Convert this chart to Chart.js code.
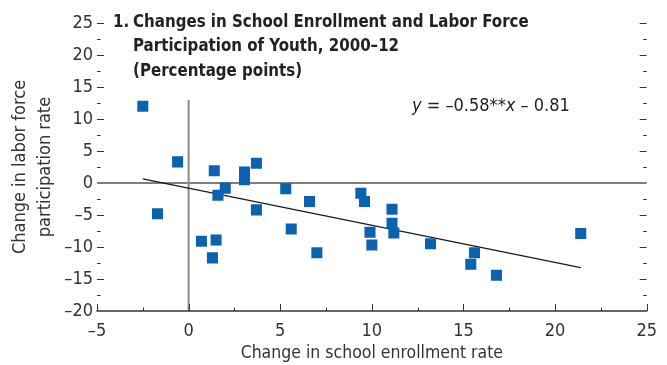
<!DOCTYPE html>
<html>
<head>
<meta charset="utf-8">
<script src="https://cdn.jsdelivr.net/npm/chart.js@4.4.0/dist/chart.umd.min.js"></script>
<style>
    html, body { margin: 0; padding: 0; background: #fff; }
    #wrap { width: 667px; height: 365px; }
</style>
</head>
<body>
<div id="wrap"><canvas id="scatter_canvas" width="667" height="365"></canvas></div>
<script>
// change in school enrollment rate (x) vs change in labor force participation rate (y)
const enrollment_change = [
    -2.5, -0.6, 1.4, 3.05, 3.05, 3.7, 2.0, 5.3, 1.6, -1.7,
    3.7, 6.6, 5.6, 0.7, 1.5, 1.3, 7.0, 9.4, 9.6, 11.1,
    11.1, 11.2, 9.9, 10.0, 13.2, 15.6, 15.4, 16.8, 21.4
];
const participation_change = [
    12.0, 3.3, 1.9, 1.7, 0.5, 3.1, -0.8, -0.9, -1.9, -4.8,
    -4.2, -2.9, -7.2, -9.1, -8.9, -11.7, -10.9, -1.6, -2.9, -4.1,
    -6.3, -7.8, -7.7, -9.7, -9.5, -10.9, -12.7, -14.4, -7.9
];

// fitted line y = a*x + b
const fit_slope = -0.58;
const fit_intercept = -0.81;

const x_min = -5, x_max = 25, x_step = 5;
const y_min = -20, y_max = 25, y_step = 5;
const zero_line_top = 13;

const title_lines = [
    '1. Changes in School Enrollment and Labor Force',
    'Participation of Youth, 2000\u201312',
    '(Percentage points)'
];
const x_title = 'Change in school enrollment rate';
const y_title = ['Change in labor force', 'participation rate'];

const FONT = '"Liberation Sans Narrow", "DejaVu Sans Condensed", "Liberation Sans", sans-serif';
const TEXT_COLOR = '#333';
const POINT_COLOR = '#0b62ae';

let scatter_pts = [];
for (i = 0; i < enrollment_change.length; i++) {
    scatter_pts.push({x: enrollment_change[i], y: participation_change[i]});
}
let fit_x0 = Math.min(...enrollment_change);
let fit_x1 = Math.max(...enrollment_change);
let fit_pts = [
    {x: fit_x0, y: fit_slope * fit_x0 + fit_intercept},
    {x: fit_x1, y: fit_slope * fit_x1 + fit_intercept}
];

function dash_minus(v) {
    return String(v).replace('-', '\u2013');
}

function stroke_line(ctx, x1, y1, x2, y2) {
    ctx.beginPath();
    ctx.moveTo(x1, y1);
    ctx.lineTo(x2, y2);
    ctx.stroke();
}

// text squeezed sideways to look like a condensed face
function narrow_text(ctx, txt, x, y, squeeze) {
    ctx.save();
    ctx.translate(x, y);
    ctx.scale(squeeze, 1);
    ctx.fillText(txt, 0, 0);
    ctx.restore();
}

// inward tick marks, zero lines, bottom axis line, panel title and equation
const axis_decor = {
    id: 'axis_decor',
    beforeDatasetsDraw(chart) {
        const {ctx, chartArea: a, scales: {x, y}} = chart;
        ctx.save();
        ctx.lineCap = 'butt';

        // horizontal zero line
        ctx.strokeStyle = '#555';
        ctx.lineWidth = 1.3;
        let y0 = y.getPixelForValue(0);
        stroke_line(ctx, a.left, y0, a.right, y0);

        // vertical zero line
        ctx.strokeStyle = '#8a8a8a';
        ctx.lineWidth = 2;
        let x0 = x.getPixelForValue(0);
        stroke_line(ctx, x0, a.bottom, x0, y.getPixelForValue(zero_line_top));

        // bottom axis
        ctx.strokeStyle = '#333';
        ctx.lineWidth = 1.3;
        stroke_line(ctx, a.left - 0.6, a.bottom, a.right + 0.6, a.bottom);
        ctx.lineWidth = 1;
        for (v = x_min; v <= x_max; v += x_step / 2) {
            let px = Math.round(x.getPixelForValue(v)) + 0.5;
            let len = (v % x_step === 0) ? 7 : 3.5;
            stroke_line(ctx, px, a.bottom, px, a.bottom - len);
        }

        // left and right tick marks, no border line
        for (v = y_min + y_step / 2; v <= y_max; v += y_step / 2) {
            let py = Math.round(y.getPixelForValue(v)) + 0.5;
            let major = (v % y_step === 0);
            if (v === 0) continue;
            stroke_line(ctx, a.left, py, a.left + (major ? 7 : 3.5), py);
            stroke_line(ctx, a.right, py, a.right - (major ? 7 : 3.5), py);
        }
        ctx.restore();
    },
    afterDraw(chart) {
        const {ctx, chartArea: a} = chart;
        ctx.save();
        ctx.fillStyle = '#222';
        ctx.textBaseline = 'middle';
        ctx.font = 'bold 18px ' + FONT;
        narrow_text(ctx, '1.', a.left + 16, 22, 0.93);
        narrow_text(ctx, title_lines[0].slice(3), a.left + 36, 22, 0.93);
        narrow_text(ctx, title_lines[1], a.left + 36, 46.5, 0.93);
        narrow_text(ctx, title_lines[2], a.left + 36, 71, 0.93);

        // equation with italic variables
        let parts = [
            ['y', true], [' = \u20130.' + '58**', false], ['x', true],
            [' \u2013 ' + String(Math.abs(fit_intercept)), false]
        ];
        let tx = 412;
        for (p of parts) {
            ctx.font = (p[1] ? 'italic ' : '') + '18px ' + FONT;
            ctx.fillText(p[0], tx, 106);
            tx += ctx.measureText(p[0]).width;
        }
        ctx.restore();
    }
};

new Chart(document.getElementById('scatter_canvas'), {
    type: 'scatter',
    data: {
        datasets: [
            {
                label: 'countries',
                data: scatter_pts,
                pointStyle: 'rect',
                pointRadius: 7.8,
                pointHoverRadius: 7.8,
                backgroundColor: POINT_COLOR,
                borderWidth: 0,
                order: 1
            },
            {
                type: 'line',
                label: 'fit',
                data: fit_pts,
                borderColor: '#1a1a1a',
                borderWidth: 1.1,
                pointRadius: 0,
                fill: false,
                order: 2
            }
        ]
    },
    options: {
        responsive: false,
        animation: false,
        devicePixelRatio: 1,
        layout: {padding: {left: 0, right: 15, top: 23, bottom: 0}},
        plugins: {
            legend: {display: false},
            tooltip: {enabled: false}
        },
        scales: {
            x: {
                type: 'linear',
                min: x_min,
                max: x_max,
                grid: {display: false, drawTicks: false},
                border: {display: false},
                ticks: {
                    stepSize: x_step,
                    padding: 10,
                    color: TEXT_COLOR,
                    font: {family: FONT, size: 18},
                    maxRotation: 0,
                    callback: dash_minus
                },
                title: {
                    display: true,
                    text: x_title,
                    color: TEXT_COLOR,
                    font: {family: FONT, size: 17.5},
                    padding: {top: 0, bottom: 1}
                },
                afterFit(scale) { scale.height = 54; }
            },
            y: {
                type: 'linear',
                min: y_min,
                max: y_max,
                grid: {display: false, drawTicks: false},
                border: {display: false},
                ticks: {
                    stepSize: y_step,
                    padding: 4,
                    color: TEXT_COLOR,
                    font: {family: FONT, size: 18},
                    callback: dash_minus
                },
                title: {
                    display: true,
                    text: y_title,
                    color: TEXT_COLOR,
                    font: {family: FONT, size: 18, lineHeight: 1.4},
                    padding: {top: 8, bottom: 0}
                },
                afterFit(scale) { scale.width = 97; }
            }
        }
    },
    plugins: [axis_decor]
});
</script>
</body>
</html>
